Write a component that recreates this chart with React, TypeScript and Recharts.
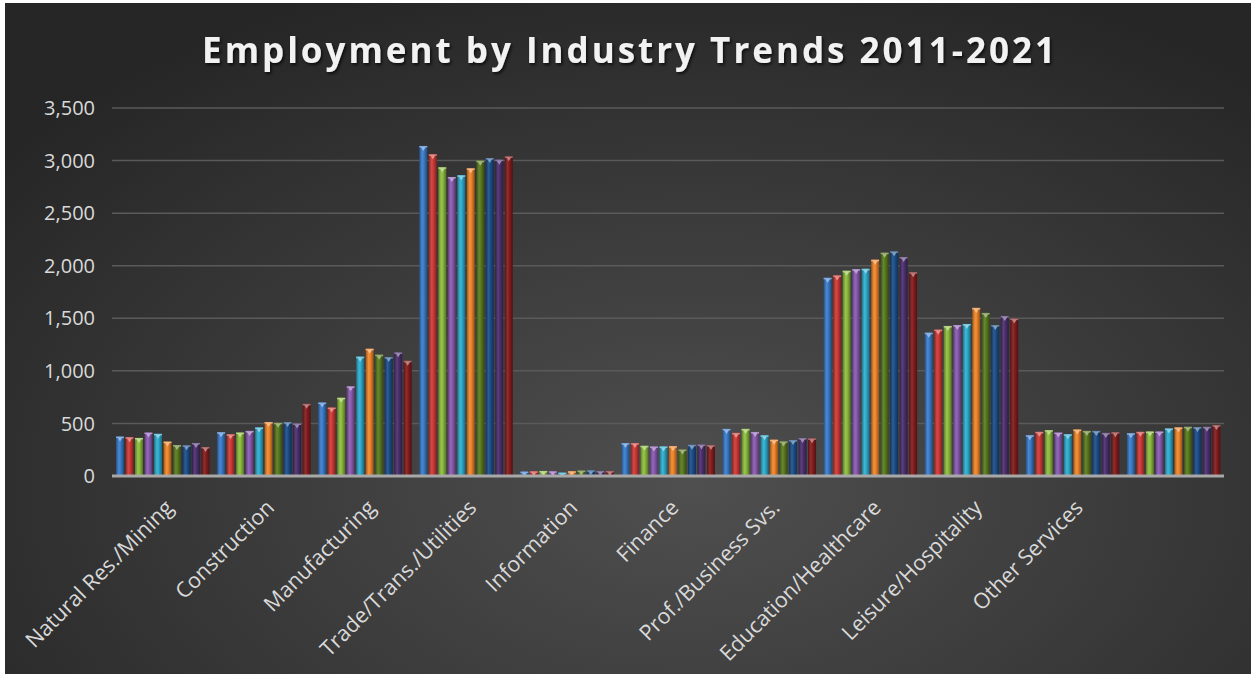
import React from "react";
import { BarChart, Bar, XAxis, YAxis, CartesianGrid } from "recharts";

const categories = [
  "Natural Res./Mining",
  "Construction",
  "Manufacturing",
  "Trade/Trans./Utilities",
  "Information",
  "Finance",
  "Prof./Business Svs.",
  "Education/Healthcare",
  "Leisure/Hospitality",
  "Other Services",
  "",
];

const seriesNames = ["2012", "2013", "2014", "2015", "2016", "2017", "2018", "2019", "2020", "2021"];

const s2012 = [375, 417, 699, 3139, 42, 313, 448, 1885, 1363, 388, 407];
const s2013 = [369, 397, 651, 3060, 45, 313, 410, 1908, 1392, 420, 420];
const s2014 = [362, 413, 744, 2936, 48, 287, 448, 1952, 1427, 436, 423];
const s2015 = [413, 429, 853, 2844, 45, 281, 419, 1968, 1436, 413, 423];
const s2016 = [401, 462, 1135, 2860, 32, 281, 387, 1971, 1446, 397, 452];
const s2017 = [327, 513, 1210, 2926, 45, 284, 345, 2057, 1599, 442, 462];
const s2018 = [295, 506, 1154, 2999, 52, 252, 329, 2124, 1551, 429, 468];
const s2019 = [292, 513, 1131, 3024, 55, 297, 342, 2137, 1436, 429, 465];
const s2020 = [314, 500, 1176, 3009, 48, 300, 361, 2083, 1522, 410, 468];
const s2021 = [276, 686, 1096, 3040, 48, 294, 358, 1939, 1497, 417, 484];

const seriesValues = [s2012, s2013, s2014, s2015, s2016, s2017, s2018, s2019, s2020, s2021];

const yTicks = [0, 500, 1000, 1500, 2000, 2500, 3000, 3500];

const colors = [
  "#3b7dcc",
  "#cf3a36",
  "#8dbd3e",
  "#8a5bb1",
  "#2fadcf",
  "#f0862a",
  "#5a7b1f",
  "#1d4f8b",
  "#4d306f",
  "#851d1e",
];

const data = categories.map((c, i) => {
  const row: Record<string, any> = { name: c };
  seriesNames.forEach((s, j) => {
    row[s] = seriesValues[j][i];
  });
  return row;
});

function shade(hex: string, f: number) {
  const n = parseInt(hex.slice(1), 16);
  let r = (n >> 16) & 255, g = (n >> 8) & 255, b = n & 255;
  if (f < 0) {
    r = Math.round(r * (1 + f)); g = Math.round(g * (1 + f)); b = Math.round(b * (1 + f));
  } else {
    r = Math.round(r + (255 - r) * f); g = Math.round(g + (255 - g) * f); b = Math.round(b + (255 - b) * f);
  }
  return `rgb(${r},${g},${b})`;
}

const makeShape = (idx: number) => (props: any) => {
  const { x, y, width, height } = props;
  if (!height || height <= 0) return <g />;
  const c = colors[idx];
  const tri = Math.min(4, height);
  return (
    <g>
      <rect x={x} y={y} width={width} height={height} fill={`url(#cyl${idx})`} />
      <rect x={x} y={y} width={width} height={Math.min(1.5, height)} fill={shade(c, 0.35)} />
      <path
        d={`M${x + 1.5},${y + 1} L${x + width - 1.5},${y + 1} L${x + width / 2},${y + 1 + tri} Z`}
        fill={shade(c, 0.45)}
      />
    </g>
  );
};

const AngledTick = (props: any) => {
  const { x, y, payload } = props;
  const px = x + 12;
  const py = y + 33;
  return (
    <text
      x={px}
      y={py}
      transform={`rotate(-45, ${px}, ${py})`}
      textAnchor="end"
      fill="#d9d9d9"
      fontSize={21.5}
      fontFamily="'Open Sans', sans-serif"
    >
      {payload.value}
    </text>
  );
};

export default function App() {
  return (
    <div style={{ position: "absolute", left: 0, top: 0, width: 1251, height: 674, background: "#ffffff", overflow: "hidden" }}>
      <svg width={0} height={0} style={{ position: "absolute" }}>
        <defs>
          {colors.map((c, i) => (
            <linearGradient key={i} id={`cyl${i}`} x1="0" y1="0" x2="1" y2="0">
              <stop offset="0%" stopColor={shade(c, -0.35)} />
              <stop offset="35%" stopColor={shade(c, 0.08)} />
              <stop offset="55%" stopColor={c} />
              <stop offset="100%" stopColor={shade(c, -0.4)} />
            </linearGradient>
          ))}
        </defs>
      </svg>
      <div
        style={{
          position: "absolute",
          left: 5,
          top: 3,
          width: 1246,
          height: 671,
          background:
            "radial-gradient(ellipse 70% 80% at 55% 72%, #4f4f4f 0%, #3d3d3d 45%, #262626 100%)",
        }}
      />
      <div style={{ position: "absolute", left: 0, top: 0 }}>
        <BarChart
          width={1251}
          height={674}
          data={data}
          margin={{ top: 108, right: 27, left: 0, bottom: 8 }}
          barCategoryGap={4}
          barGap={1.5}
        >
          <CartesianGrid vertical={false} stroke="#5a5a5a" strokeWidth={1.5} />
          <YAxis
            width={112}
            domain={[0, 3500]}
            ticks={yTicks}
            interval={0}
            axisLine={false}
            tickLine={false}
            tickSize={0}
            tickMargin={17}
            tickFormatter={(v: number) => v.toLocaleString("en-US")}
            tick={{ fill: "#d9d9d9", fontSize: 20, fontFamily: "'Open Sans', sans-serif" }}
          />
          <XAxis
            dataKey="name"
            height={190}
            interval={0}
            axisLine={{ stroke: "#a8a8a8", strokeWidth: 3 }}
            tickLine={false}
            tickSize={0}
            tickMargin={0}
            tick={<AngledTick />}
          />
          {seriesNames.map((s, i) => (
            <Bar key={s} dataKey={s} fill={colors[i]} isAnimationActive={false} shape={makeShape(i)} />
          ))}
        </BarChart>
      </div>
      <svg width={1251} height={674} style={{ position: "absolute", left: 0, top: 0, pointerEvents: "none" }}>
        <defs>
          <filter id="tshadow" x="-10%" y="-30%" width="120%" height="160%">
            <feDropShadow dx="1.5" dy="2" stdDeviation="1.5" floodColor="#000" floodOpacity="0.7" />
          </filter>
        </defs>
        <text
          x={630}
          y={63}
          textAnchor="middle"
          fill="#f2f2f2"
          fontSize={35}
          fontWeight="bold"
          letterSpacing={3}
          fontFamily="'Open Sans', sans-serif"
          filter="url(#tshadow)"
        >
          Employment by Industry Trends 2011-2021
        </text>
      </svg>
    </div>
  );
}
